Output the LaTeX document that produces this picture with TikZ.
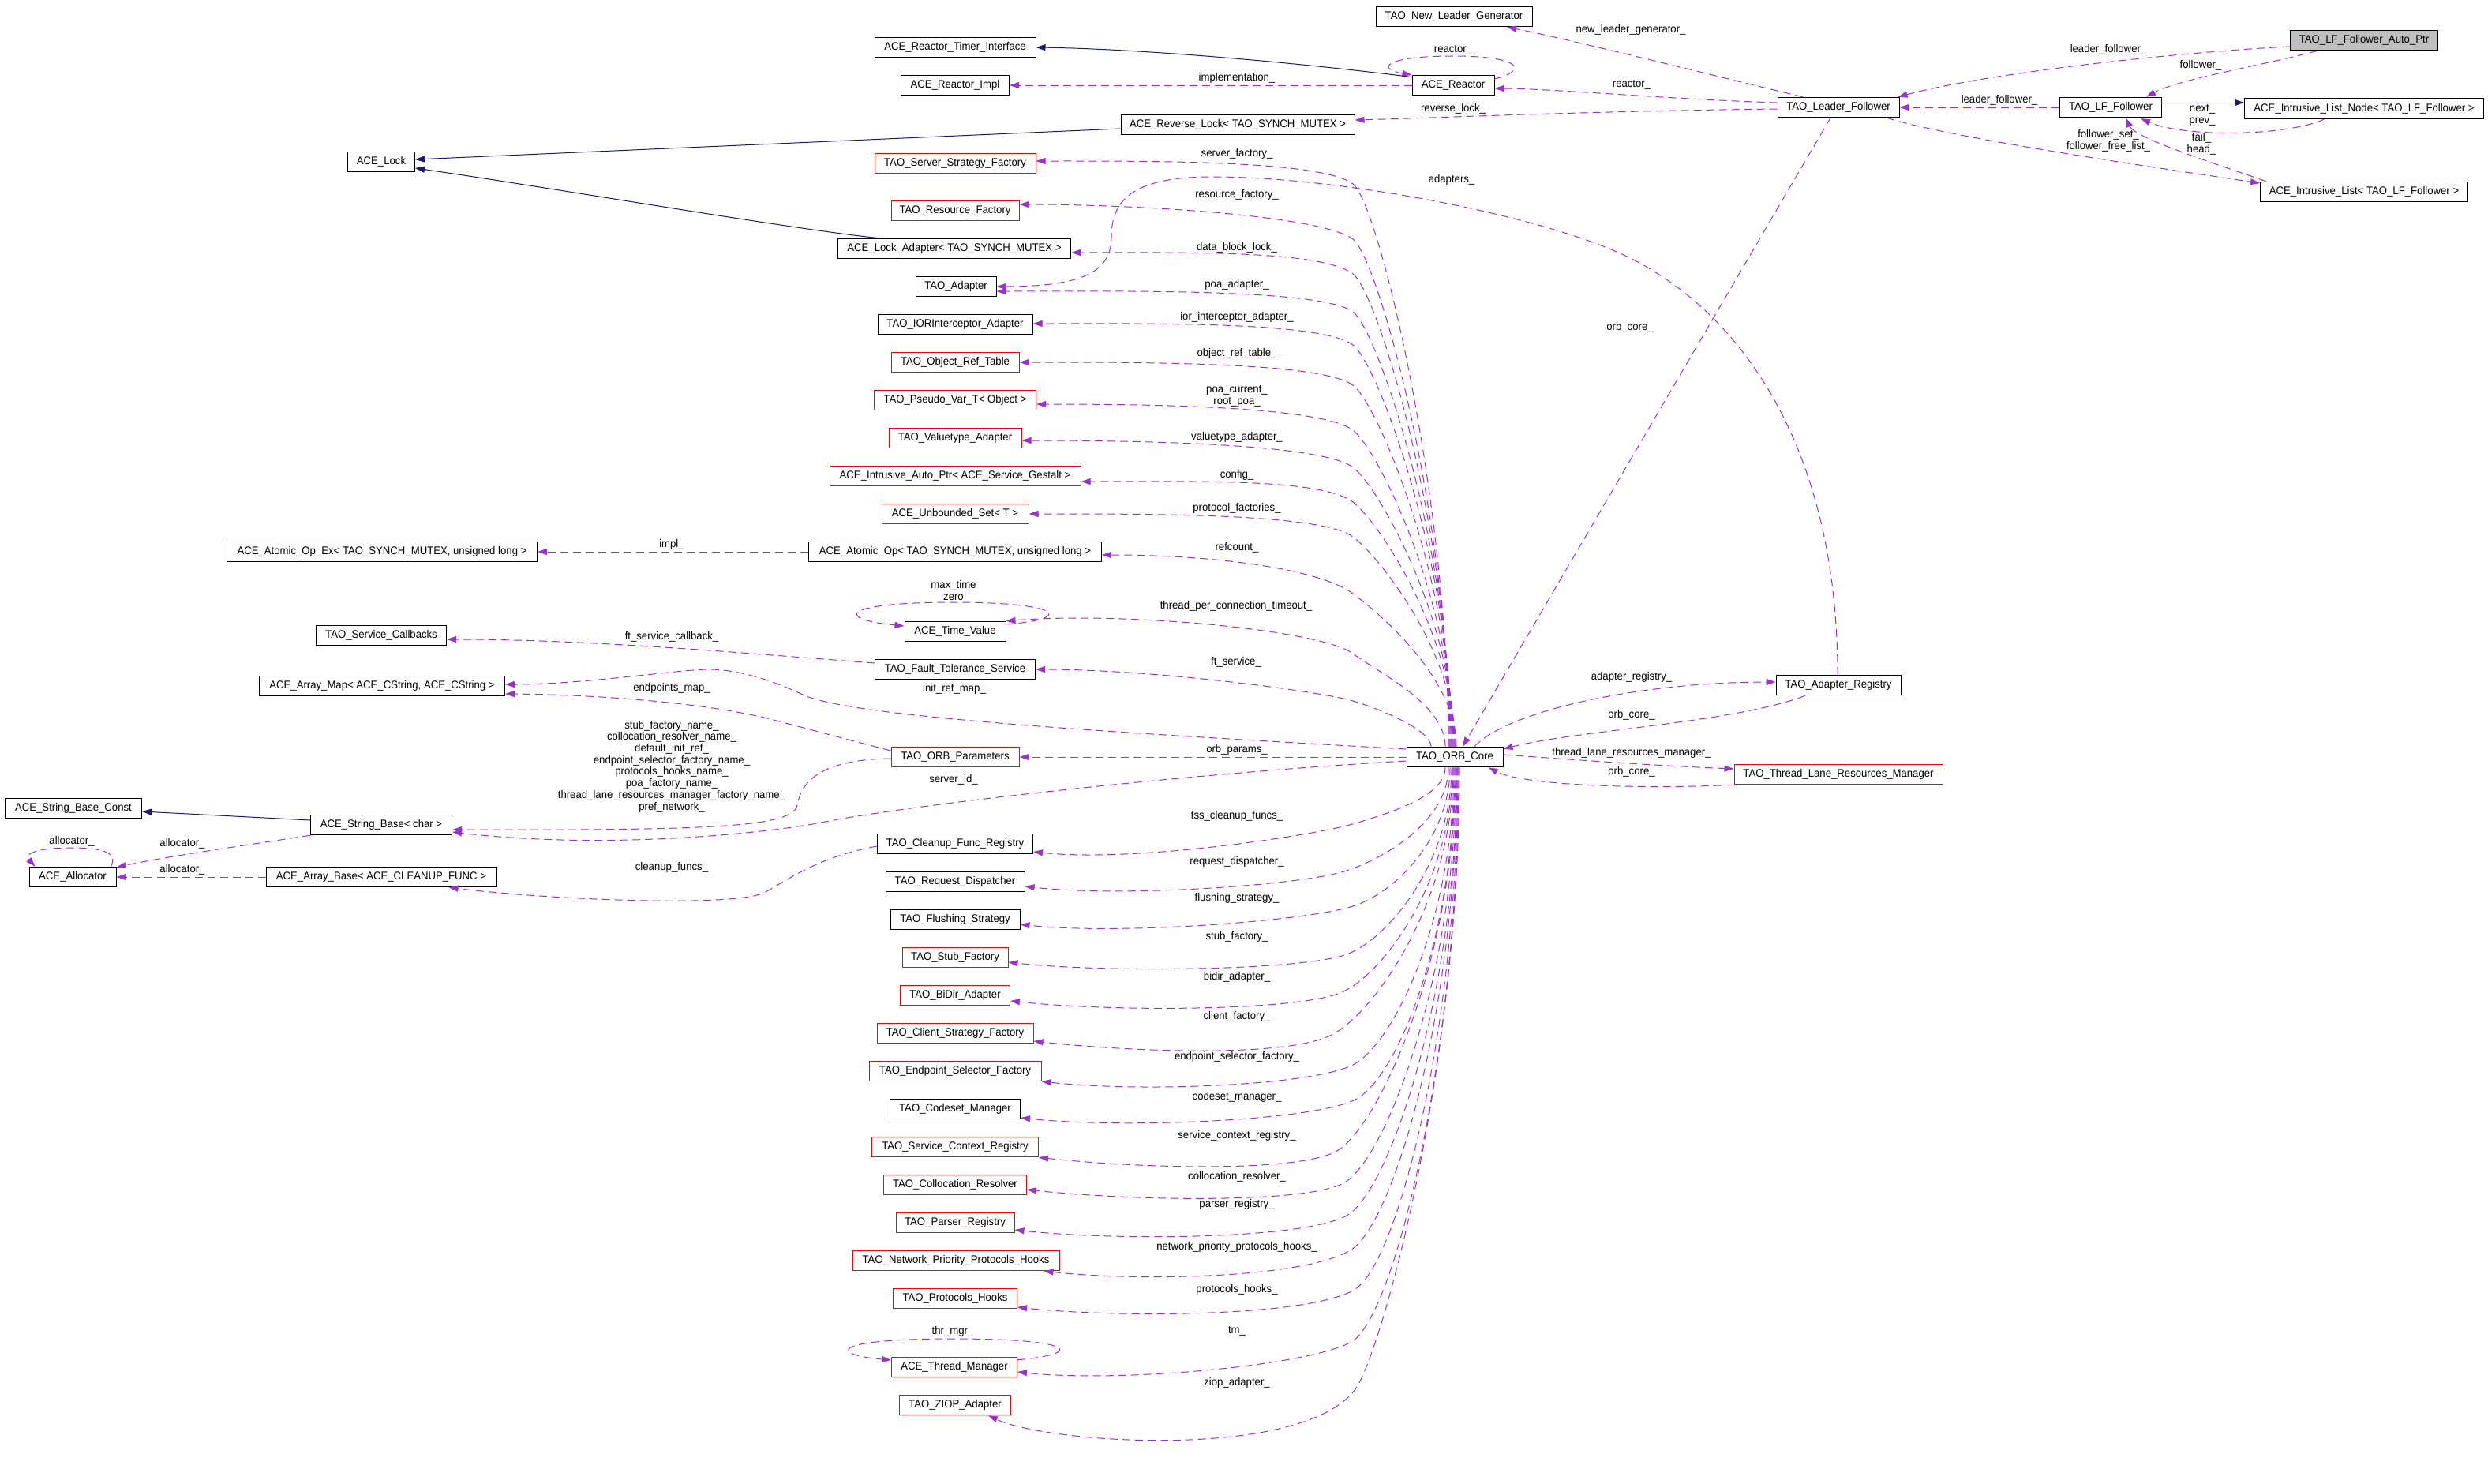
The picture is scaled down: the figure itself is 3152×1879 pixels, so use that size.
\documentclass[tikz,border=0pt]{standalone}
\usepackage{fontspec}
\setmainfont{Liberation Sans}[FakeStretch=0.94]
\usetikzlibrary{arrows.meta,calc}
\definecolor{useclr}{HTML}{9A32CD}
\definecolor{inhclr}{HTML}{191970}
\definecolor{nodegrey}{HTML}{BFBFBF}
\newcommand\upedge[5]{\draw[use] ($(core.north)+(#1,0)$) .. controls +(0,#5) and +(32,-24) .. (#3,-#4) .. controls +(-40,30) and +(150,0) .. (#2);}
\newcommand\downedge[7]{\draw[use] ($(core.south)+(#1,0)$) .. controls +(0,-#5) and +(#6,#7) .. (#3,-#4) .. controls +(-#6,-#7) and +(130,-14) .. (#2);}
\begin{document}
\begin{tikzpicture}[x=1pt,y=1pt,
  cls/.style={draw=black, line width=1pt, minimum height=25.5pt, inner sep=0pt, font=\fontsize{14}{14.7}\selectfont},
  trunc/.style={cls, draw=red},
  lbl/.style={font=\fontsize{14}{14.7}\selectfont, align=center, inner sep=0pt},
  use/.style={draw=useclr, line width=1pt, dash pattern=on 10pt off 6pt, -{Triangle[length=12pt,width=8pt]}},
  inh/.style={draw=inhclr, line width=1pt, -{Triangle[length=12pt,width=8pt]}}]
\fill[white] (0,0) rectangle (3152,-1879);
\useasboundingbox (0,0) rectangle (3152,-1879);
% ---------------- nodes
\node[cls, minimum width=198pt] (newleader) at (1842,-21) {TAO\_New\_Leader\_Generator};
\node[cls, minimum width=204pt] (timer) at (1210,-60) {ACE\_Reactor\_Timer\_Interface};
\node[cls, minimum width=137pt] (impl) at (1210,-108) {ACE\_Reactor\_Impl};
\node[cls, minimum width=104pt] (reactor) at (1841,-108) {ACE\_Reactor};
\node[cls, minimum width=296pt] (revlock) at (1568,-158) {ACE\_Reverse\_Lock< TAO\_SYNCH\_MUTEX >};
\node[trunc, minimum width=204pt] (ssf) at (1210,-207) {TAO\_Server\_Strategy\_Factory};
\node[cls, minimum width=85pt] (acelock) at (483,-205) {ACE\_Lock};
\node[trunc, minimum width=162pt] (resfac) at (1210,-267) {TAO\_Resource\_Factory};
\node[cls, minimum width=295pt] (lockadapter) at (1209,-315) {ACE\_Lock\_Adapter< TAO\_SYNCH\_MUTEX >};
\node[cls, minimum width=102pt] (adapter) at (1211,-363) {TAO\_Adapter};
\node[cls, minimum width=196pt] (ior) at (1210,-411) {TAO\_IORInterceptor\_Adapter};
\node[trunc, minimum width=162pt] (ort) at (1210,-459) {TAO\_Object\_Ref\_Table};
\node[trunc, minimum width=205pt] (pseudo) at (1210,-507) {TAO\_Pseudo\_Var\_T< Object >};
\node[trunc, minimum width=168pt] (valuetype) at (1210,-555) {TAO\_Valuetype\_Adapter};
\node[trunc, minimum width=318pt] (autoptr) at (1210,-603) {ACE\_Intrusive\_Auto\_Ptr< ACE\_Service\_Gestalt >};
\node[trunc, minimum width=186pt] (unbounded) at (1210,-651) {ACE\_Unbounded\_Set< T >};
\node[cls, minimum width=371pt] (atomic) at (1210,-699) {ACE\_Atomic\_Op< TAO\_SYNCH\_MUTEX, unsigned long >};
\node[cls, minimum width=393pt] (atomicex) at (484,-699) {ACE\_Atomic\_Op\_Ex< TAO\_SYNCH\_MUTEX, unsigned long >};
\node[cls, minimum width=128pt] (timevalue) at (1210,-800) {ACE\_Time\_Value};
\node[cls, minimum width=203pt] (ftservice) at (1210,-848) {TAO\_Fault\_Tolerance\_Service};
\node[cls, minimum width=165pt] (callbacks) at (483,-805) {TAO\_Service\_Callbacks};
\node[cls, minimum width=311pt] (arraymap) at (484,-869) {ACE\_Array\_Map< ACE\_CString, ACE\_CString >};
\node[cls, minimum width=173pt] (strconst) at (93,-1024) {ACE\_String\_Base\_Const};
\node[cls, minimum width=179pt] (strbase) at (483,-1045) {ACE\_String\_Base< char >};
\node[cls, minimum width=110pt] (allocator) at (92,-1111) {ACE\_Allocator};
\node[cls, minimum width=292pt] (arraybase) at (483,-1111) {ACE\_Array\_Base< ACE\_CLEANUP\_FUNC >};
\node[cls, minimum width=122pt] (core) at (1843,-959) {TAO\_ORB\_Core};
\node[trunc, minimum width=162pt] (params) at (1210,-959) {TAO\_ORB\_Parameters};
\node[cls, minimum width=158pt] (adreg) at (2329,-868) {TAO\_Adapter\_Registry};
\node[trunc, minimum width=264pt] (tlrm) at (2329,-981) {TAO\_Thread\_Lane\_Resources\_Manager};
\node[cls, minimum width=197pt] (cleanup) at (1210,-1069) {TAO\_Cleanup\_Func\_Registry};
\node[cls, minimum width=176pt] (reqdisp) at (1210,-1117) {TAO\_Request\_Dispatcher};
\node[cls, minimum width=164pt] (flush) at (1210,-1165) {TAO\_Flushing\_Strategy};
\node[trunc, minimum width=134pt] (stub) at (1210,-1213) {TAO\_Stub\_Factory};
\node[trunc, minimum width=139pt] (bidir) at (1210,-1261) {TAO\_BiDir\_Adapter};
\node[trunc, minimum width=198pt] (client) at (1210,-1309) {TAO\_Client\_Strategy\_Factory};
\node[trunc, minimum width=218pt] (endpoint) at (1210,-1357) {TAO\_Endpoint\_Selector\_Factory};
\node[cls, minimum width=165pt] (codeset) at (1210,-1405) {TAO\_Codeset\_Manager};
\node[trunc, minimum width=211pt] (scr) at (1210,-1453) {TAO\_Service\_Context\_Registry};
\node[trunc, minimum width=181pt] (colloc) at (1210,-1501) {TAO\_Collocation\_Resolver};
\node[trunc, minimum width=150pt] (parser) at (1210,-1549) {TAO\_Parser\_Registry};
\node[trunc, minimum width=262pt] (netprio) at (1211,-1597) {TAO\_Network\_Priority\_Protocols\_Hooks};
\node[trunc, minimum width=157pt] (protohooks) at (1210,-1645) {TAO\_Protocols\_Hooks};
\node[trunc, minimum width=159pt] (thrmgr) at (1209,-1732) {ACE\_Thread\_Manager};
\node[trunc, minimum width=141pt] (ziop) at (1210,-1780) {TAO\_ZIOP\_Adapter};
\node[cls, fill=nodegrey, minimum width=187pt] (lfauto) at (2995,-51) {TAO\_LF\_Follower\_Auto\_Ptr};
\node[cls, minimum width=154pt] (leader) at (2329,-136) {TAO\_Leader\_Follower};
\node[cls, minimum width=129pt] (lffollower) at (2674,-136) {TAO\_LF\_Follower};
\node[cls, minimum width=303pt] (listnode) at (2995,-137.5) {ACE\_Intrusive\_List\_Node< TAO\_LF\_Follower >};
\node[cls, minimum width=263pt] (ilist) at (2995,-243) {ACE\_Intrusive\_List< TAO\_LF\_Follower >};
% ---------------- top right edges
\draw[use] ($(lfauto.west)+(0,-8)$) .. controls (2760,-66) and (2520,-92) .. ($(leader.north east)+(-2,0)$);
\draw[use] ($(lfauto.south)+(-59,0)$) .. controls (2880,-80) and (2760,-100) .. ($(lffollower.north east)+(-20,0)$);
\draw[use] (lffollower.west) -- (leader.east);
\draw[inh] ($(lffollower.east)+(0,6)$) -- ($(listnode.west)+(0,7.5)$);
\draw[use] ($(listnode.south)+(-50,0)$) .. controls (2900,-172) and (2770,-175) .. ($(lffollower.south east)+(-27,-1)$);
\draw[use] ($(ilist.north west)+(8,0)$) .. controls (2800,-205) and (2705,-175) .. ($(lffollower.south)+(19,0)$);
\draw[use] ($(leader.south east)+(-16,0)$) .. controls (2470,-175) and (2750,-215) .. ($(ilist.west)+(0,11)$);
\draw[use] ($(leader.north)+(-45,0)$) .. controls (2200,-103) and (1990,-50) .. ($(newleader.south)+(67,0)$);
\draw[use] ($(leader.west)+(0,6)$) .. controls (2120,-126) and (1960,-112) .. ($(reactor.east)+(0,-4)$);
\draw[use] ($(leader.west)+(0,-2)$) .. controls (2000,-141) and (1800,-150) .. ($(revlock.east)+(0,6)$);
\draw[use] ($(leader.south)+(-10,0)$) -- ($(core.north)+(10,0)$);
% ---------------- reactor and locks
\draw[use] ($(reactor.east)+(0,8)$) .. controls (1935,-90) and (1930,-71) .. (1841,-71) .. controls (1750,-71) and (1745,-88) .. (reactor.north west);
\draw[inh] ($(reactor.north west)+(1,-3)$) .. controls (1650,-80) and (1450,-62) .. (timer.east);
\draw[use] (reactor.west) -- (impl.east);
\draw[inh] ($(revlock.west)+(0,-5)$) -- ($(acelock.east)+(0,3)$);
\draw[inh] ($(lockadapter.north west)+(53,0)$) .. controls (1000,-290) and (700,-238) .. ($(acelock.east)+(0,-8)$);
\draw[inh] ($(strbase.west)+(0,6)$) -- ($(strconst.east)+(0,-4)$);
\draw[use] (atomic.west) -- (atomicex.east);
% ---------------- self loops
\draw[use] ($(timevalue.north east)+(0,-4)$) .. controls (1360,-785) and (1350,-763) .. (1208,-763) .. controls (1060,-763) and (1060,-785) .. ($(timevalue.west)+(0,7)$);
\draw[use] ($(thrmgr.north east)+(0,-4)$) .. controls (1375,-1715) and (1365,-1696) .. (1207,-1696) .. controls (1050,-1696) and (1050,-1716) .. ($(thrmgr.west)+(0,9)$);
\draw[use] ($(allocator.north east)+(-7,0)$) .. controls (150,-1080) and (130,-1074) .. (91,-1074) .. controls (45,-1074) and (30,-1082) .. ($(allocator.north west)+(8,0)$);
% ---------------- left side
\draw[use] ($(ftservice.west)+(0,8)$) .. controls (950,-828) and (750,-810) .. ($(callbacks.east)+(0,-5)$);
\draw[use] ($(core.west)+(0,10)$) .. controls (1450,-930) and (1080,-910) .. (1017,-880) .. controls (979,-862) and (935,-848) .. (898,-848) .. controls (861,-848) and (740,-867) .. ($(arraymap.east)+(0,2)$);
\draw[use] ($(params.west)+(0,8)$) .. controls (1040,-928) and (1030,-925) .. (980,-912) .. controls (900,-891) and (760,-880) .. ($(arraymap.east)+(0,-10)$);
\draw[use] ($(params.west)+(0,-2)$) .. controls (1040,-962) and (1015,-990) .. (1010,-1020) .. controls (1005,-1048) and (900,-1052) .. ($(strbase.east)+(0,-6)$);
\draw[use] ($(core.west)+(0,-5)$) .. controls (1500,-980) and (1150,-1020) .. (1040,-1042) .. controls (985,-1053) and (780,-1078) .. ($(strbase.east)+(0,-9)$);
\draw[use] ($(cleanup.west)+(0,-3)$) .. controls (1040,-1085) and (1005,-1110) .. (970,-1130) .. controls (935,-1150) and (700,-1140) .. ($(arraybase.south east)+(-61,0)$);
\draw[use] (strbase.south west) .. controls (330,-1068) and (210,-1085) .. ($(allocator.north east)+(0,-1)$);
\draw[use] (arraybase.west) -- (allocator.east);
\draw[use] (core.west) -- (params.east);
% ---------------- right of core
\draw[use] ($(core.north)+(25,0)$) .. controls (1910,-900) and (2080,-864) .. ($(adreg.west)+(0,4)$);
\draw[use] ($(adreg.south)+(-42,0)$) .. controls (2200,-915) and (2000,-925) .. ($(core.north east)+(0,-3)$);
\draw[use] ($(core.east)+(0,3)$) .. controls (2000,-963) and (2100,-970) .. ($(tlrm.west)+(0,7)$);
\draw[use] (tlrm.south west) .. controls (2080,-1000) and (1930,-995) .. ($(core.south east)+(-19,0)$);
\draw[use] ($(adreg.north)+(-1,0)$) .. controls (2328,-560) and (2200,-390) .. (2057,-323) .. controls (1950,-273) and (1700,-224) .. (1536,-224) .. controls (1440,-224) and (1408,-250) .. (1408,-300) .. controls (1408,-340) and (1380,-363) .. (adapter.east);
% ---------------- upper bundle
\upedge{-8}{$(ssf.east)+(0,3)$}{1714}{233}{321}
\upedge{-7}{$(resfac.east)+(0,8)$}{1714}{303}{290}
\upedge{-6}{$(lockadapter.east)+(0,-5)$}{1714}{347}{270}
\upedge{-5}{$(adapter.east)+(0,-6)$}{1714}{395}{248}
\upedge{-4}{$(ior.east)+(0,1)$}{1714}{437}{230}
\upedge{-3}{ort.east}{1714}{488}{207}
\upedge{-2}{$(pseudo.east)+(0,-5)$}{1714}{545}{181}
\upedge{-1}{$(valuetype.east)+(0,-3)$}{1714}{592}{160}
\upedge{0}{$(autoptr.east)+(0,-7)$}{1714}{636}{140}
\upedge{1}{unbounded.east}{1714}{680}{120}
\upedge{2}{$(atomic.east)+(0,-4)$}{1714}{752}{88}
\draw[use] ($(core.north)+(-12,0)$) .. controls +(0,54) and +(32,-24) .. (1714,-828) .. controls +(-40,30) and +(150,12) .. (timevalue.north east);
\draw[use] ($(core.north)+(-30,0)$) .. controls +(0,20) and +(40,-12) .. (1714,-888) .. controls +(-40,12) and +(150,0) .. (ftservice.east);
% ---------------- lower bundle
\downedge{-12}{$(cleanup.east)+(0,-10)$}{1717}{1043}{35}{50}{15}
\downedge{-8}{$(reqdisp.east)+(0,-6)$}{1706}{1103}{65}{54}{18}
\downedge{-6}{$(flush.east)+(0,-6)$}{1717}{1147}{87}{54}{19}
\downedge{-4}{$(stub.east)+(0,-6)$}{1706}{1209}{118}{54}{20}
\downedge{-3}{$(bidir.east)+(0,-7)$}{1700}{1257}{142}{54}{24}
\downedge{-2}{$(client.east)+(0,-10)$}{1689}{1310}{169}{54}{30}
\downedge{-1}{$(endpoint.east)+(0,-13)$}{1712}{1350}{189}{54}{25}
\downedge{0}{$(codeset.east)+(0,-11)$}{1717}{1393}{210}{54}{27}
\draw[use] ($(core.south)+(1,0)$) .. controls +(0,-244) and +(54,25) .. (1690,-1460) .. controls +(-54,-25) and +(130,-14) .. (scr.south east);
\downedge{2}{$(colloc.east)+(0,-6)$}{1700}{1500}{264}{54}{25}
\downedge{3}{$(parser.east)+(0,-9)$}{1706}{1540}{284}{54}{30}
\draw[use] ($(core.south)+(3,0)$) .. controls +(0,-305) and +(54,35) .. (1712,-1583) .. controls +(-54,-35) and +(130,-14) .. ($(netprio.south east)+(-20,0)$);
\downedge{4}{$(protohooks.east)+(0,-11)$}{1717}{1633}{330}{54}{35}
\downedge{5}{$(thrmgr.east)+(0,-6)$}{1712}{1700}{364}{54}{30}
\draw[use] ($(core.south)+(6,0)$) .. controls +(0,-394) and +(30,40) .. (1717,-1760) .. controls +(-67,-90) and +(78,-36) .. ($(ziop.south)+(42,0)$);
% ---------------- labels
\node[lbl] (l1) at (2671,-63) {leader\_follower\_};
\node[lbl] (l2) at (2788,-83) {follower\_};
\node[lbl] (l3) at (2533,-127) {leader\_follower\_};
\node[lbl] (l4) at (2790,-146) {next\_\\prev\_};
\node[lbl] (l5) at (2671,-178) {follower\_set\_\\follower\_free\_list\_};
\node[lbl] (l6) at (2789,-182) {tail\_\\head\_};
\node[lbl] (l7) at (2066,-38) {new\_leader\_generator\_};
\node[lbl] (l8) at (2067,-107) {reactor\_};
\node[lbl] (l9) at (1841,-63) {reactor\_};
\node[lbl] (l10) at (1567,-99) {implementation\_};
\node[lbl] (l11) at (1841,-138) {reverse\_lock\_};
\node[lbl] (l12) at (1567,-195) {server\_factory\_};
\node[lbl] (l13) at (1839,-228) {adapters\_};
\node[lbl] (l14) at (1567,-247) {resource\_factory\_};
\node[lbl] (l15) at (1567,-314) {data\_block\_lock\_};
\node[lbl] (l16) at (1567,-361) {poa\_adapter\_};
\node[lbl] (l17) at (1567,-402) {ior\_interceptor\_adapter\_};
\node[lbl] (l18) at (2065,-415) {orb\_core\_};
\node[lbl] (l19) at (1567,-448) {object\_ref\_table\_};
\node[lbl] (l20) at (1567,-502) {poa\_current\_\\root\_poa\_};
\node[lbl] (l21) at (1567,-554) {valuetype\_adapter\_};
\node[lbl] (l22) at (1567,-602) {config\_};
\node[lbl] (l23) at (1567,-644) {protocol\_factories\_};
\node[lbl] (l24) at (1567,-694) {refcount\_};
\node[lbl] (l25) at (1208,-748) {max\_time\\zero};
\node[lbl] (l26) at (1566,-768) {thread\_per\_connection\_timeout\_};
\node[lbl] (l27) at (1566,-839) {ft\_service\_};
\node[lbl] (l28) at (851,-690) {impl\_};
\node[lbl] (l29) at (851,-807) {ft\_service\_callback\_};
\node[lbl] (l30) at (1209,-873) {init\_ref\_map\_};
\node[lbl] (l31) at (851,-872) {endpoints\_map\_};
\node[lbl] (l32) at (851,-971) {stub\_factory\_name\_\\collocation\_resolver\_name\_\\default\_init\_ref\_\\endpoint\_selector\_factory\_name\_\\protocols\_hooks\_name\_\\poa\_factory\_name\_\\thread\_lane\_resources\_manager\_factory\_name\_\\pref\_network\_};
\node[lbl] (l33) at (1208,-988) {server\_id\_};
\node[lbl] (l34) at (1567,-950) {orb\_params\_};
\node[lbl] (l35) at (2067,-858) {adapter\_registry\_};
\node[lbl] (l36) at (2067,-906) {orb\_core\_};
\node[lbl] (l37) at (2067,-954) {thread\_lane\_resources\_manager\_};
\node[lbl] (l38) at (2067,-978) {orb\_core\_};
\node[lbl] (l39) at (1567,-1034) {tss\_cleanup\_funcs\_};
\node[lbl] (l40) at (1567,-1092) {request\_dispatcher\_};
\node[lbl] (l41) at (1567,-1138) {flushing\_strategy\_};
\node[lbl] (l42) at (1567,-1187) {stub\_factory\_};
\node[lbl] (l43) at (1567,-1238) {bidir\_adapter\_};
\node[lbl] (l44) at (1567,-1288) {client\_factory\_};
\node[lbl] (l45) at (1567,-1339) {endpoint\_selector\_factory\_};
\node[lbl] (l46) at (1567,-1390) {codeset\_manager\_};
\node[lbl] (l47) at (1567,-1439) {service\_context\_registry\_};
\node[lbl] (l48) at (1567,-1491) {collocation\_resolver\_};
\node[lbl] (l49) at (1567,-1526) {parser\_registry\_};
\node[lbl] (l50) at (1567,-1580) {network\_priority\_protocols\_hooks\_};
\node[lbl] (l51) at (1567,-1634) {protocols\_hooks\_};
\node[lbl] (l52) at (1207,-1687) {thr\_mgr\_};
\node[lbl] (l53) at (1567,-1686) {tm\_};
\node[lbl] (l54) at (1567,-1752) {ziop\_adapter\_};
\node[lbl] (l55) at (851,-1099) {cleanup\_funcs\_};
\node[lbl] (l56) at (231,-1069) {allocator\_};
\node[lbl] (l57) at (91,-1066) {allocator\_};
\node[lbl] (l58) at (231,-1102) {allocator\_};
\end{tikzpicture}
\end{document}
